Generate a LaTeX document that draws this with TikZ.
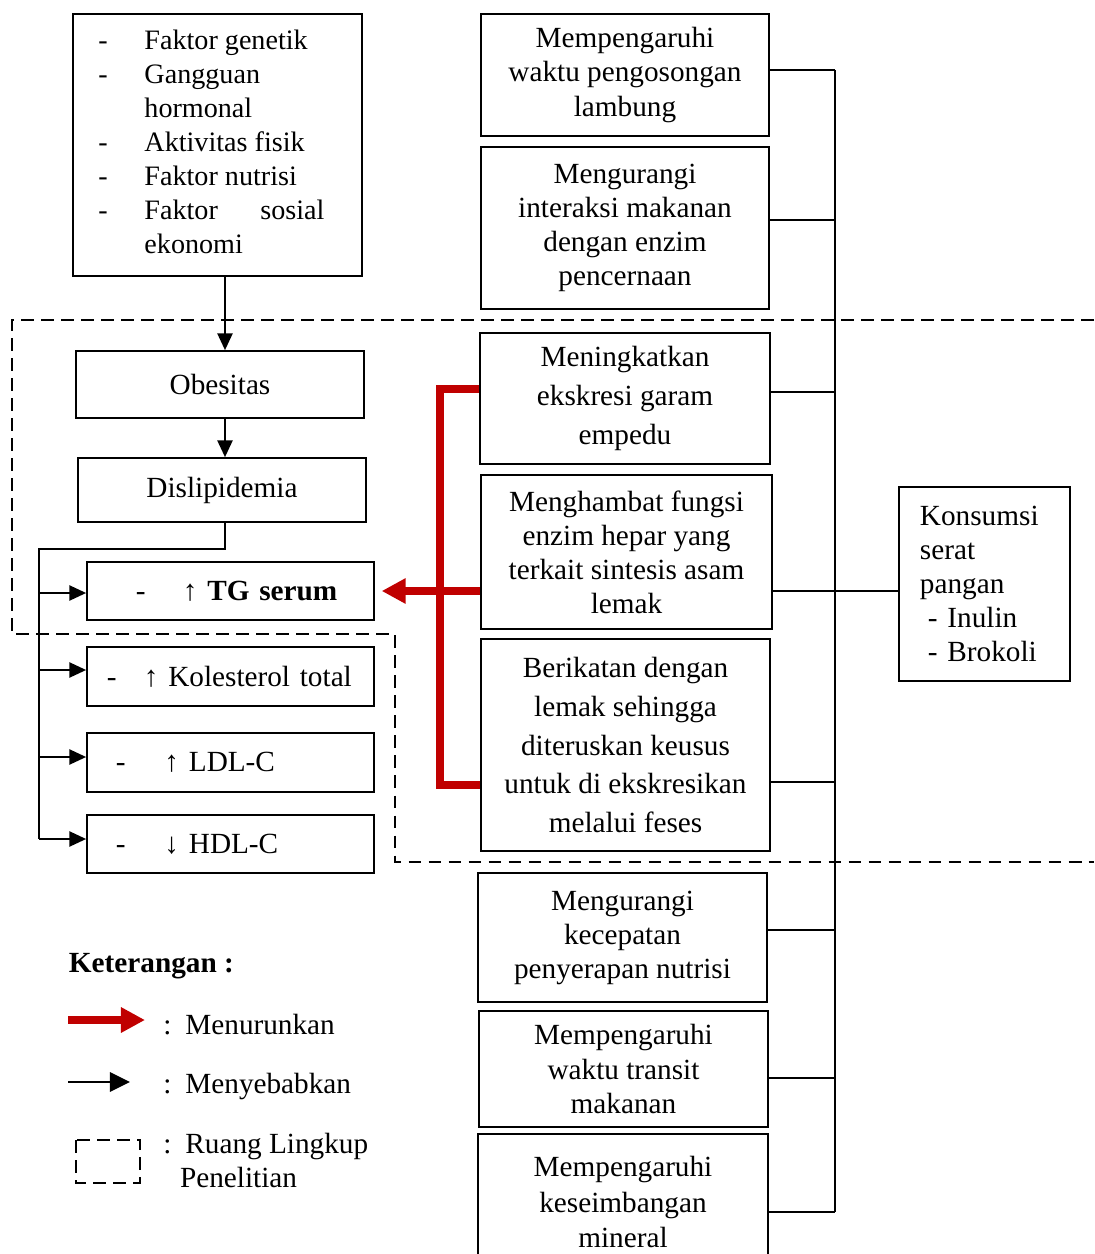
\documentclass[tikz,border=0pt]{standalone}
\usepackage{fontspec}
\setmainfont{Liberation Serif}
\usetikzlibrary{arrows.meta}
\definecolor{darkred}{RGB}{192,0,0}
\newcommand\lipid[4]{\hspace*{#1}-\hspace{#2}#3 #4}

\begin{document}
\begin{tikzpicture}[x=0.025cm, y=-0.025cm,
		box/.style={draw, line width=1.2pt, inner sep=0pt, align=center, font=\fontsize{20.8}{24.2}\selectfont},
		loose/.style={font=\fontsize{20.8}{27.6}\selectfont},
		lipidbox/.style={box, minimum width=7.175cm, text width=7.175cm, align=left},
		link/.style={line width=1.3pt},
		cause/.style={link, -{Triangle[length=0.42cm, width=0.38cm]}},
		redline/.style={line width=5pt, draw=darkred},
		scopeline/.style={line width=1.3pt, dash pattern=on 0.32cm off 0.18cm}]
		%%%%% START %%%%%
		
		\useasboundingbox (0, 0) rectangle (1094, 1254);
		
		\draw[scopeline] (1094, 320) -- (12, 320) -- (12, 634) -- (395, 634) -- (395, 862) -- (1094, 862);
		
		\node[box, minimum width=7.225cm, minimum height=6.55cm, font=\fontsize{20}{24.2}\selectfont] (risk) at (217.5, 145) {\hspace*{-0.3cm}\begin{tabular}{@{}p{1.15cm}@{}p{4.5cm}@{}}
				- & Faktor genetik\\
				- & Gangguan\\
				& hormonal\\
				- & Aktivitas fisik\\
				- & Faktor nutrisi\\
				- & Faktor\hfill sosial\\
				& ekonomi
			\end{tabular}};
		\node[box, minimum width=7.2cm, minimum height=1.675cm] (ob) at (220, 384.5) {Obesitas};
		\node[box, minimum width=7.2cm, minimum height=1.6cm] (dis) at (222, 490) {Dislipidemia};
		
		\node[lipidbox, minimum height=1.45cm] (tg) at (230.5, 591) {\lipid{1.225cm}{0.93cm}{↑}{\textbf{TG serum}}};
		\node[lipidbox, minimum height=1.475cm] (kol) at (230.5, 676.5) {\lipid{0.5cm}{0.68cm}{↑}{Kolesterol total}};
		\node[lipidbox, minimum height=1.475cm] (ldl) at (230.5, 762.5) {\lipid{0.725cm}{0.97cm}{↑}{LDL-C}};
		\node[lipidbox, minimum height=1.45cm] (hdl) at (230.5, 844) {\lipid{0.725cm}{0.97cm}{↓}{HDL-C}};
		
		\coordinate (spine) at (225, 0);
		\draw[cause] (risk.south -| spine) -- (ob.north -| spine);
		\draw[cause] (ob.south -| spine) -- (dis.north -| spine);
		
		\coordinate (feed) at (39, 549);
		\coordinate (feedend) at (39, 839);
		\draw[link] (dis.south -| spine) |- (feed) -- (feedend);
		\foreach \n/\y in {tg/593, kol/670, ldl/757, hdl/839}
			\draw[cause] (feed |- 0,\y) -- (\n.west |- 0,\y);
		
		% mekanisme serat
		\node[box, minimum width=7.2cm, minimum height=3.05cm] (m1) at (625, 75) {Mempengaruhi\\waktu pengosongan\\lambung};
		\node[box, minimum width=7.2cm, minimum height=4.05cm] (m2) at (625, 228) {Mengurangi\\interaksi makanan\\dengan enzim\\pencernaan};
		\node[box, loose, minimum width=7.25cm, minimum height=3.275cm] (m3) at (625, 398.5) {Meningkatkan\\ekskresi garam\\empedu};
		\node[box, minimum width=7.275cm, minimum height=3.85cm] (m4) at (626.5, 552) {Menghambat fungsi\\enzim hepar yang\\terkait sintesis asam\\lemak};
		\node[box, loose, minimum width=7.225cm, minimum height=5.3cm] (m5) at (625.5, 745) {Berikatan dengan\\lemak sehingga\\diteruskan keusus\\untuk di ekskresikan\\melalui feses};
		\node[box, minimum width=7.225cm, minimum height=3.225cm] (m6) at (622.5, 937.5) {Mengurangi\\kecepatan\\penyerapan nutrisi};
		\node[box, minimum width=7.225cm, minimum height=2.9cm] (m7) at (623.5, 1069) {Mempengaruhi\\waktu transit\\makanan};
		\node[box, minimum width=7.25cm, minimum height=3.4cm, font=\fontsize{20.8}{25}\selectfont] (m8) at (623, 1202) {Mempengaruhi\\keseimbangan\\mineral};
		
		\node[box, minimum width=4.275cm, minimum height=4.85cm, text width=3.225cm, align=left] (ks) at (984.5, 584) {Konsumsi\\serat\\pangan\\\hspace*{0.2cm}- Inulin\\\hspace*{0.2cm}- Brokoli};
		
		\coordinate (bustop) at (835, 70);
		\coordinate (busbot) at (835, 1212);
		\draw[link] (bustop) -- (busbot);
		\foreach \n/\y in {m1/70, m2/220, m3/392, m5/782, m6/930, m7/1078, m8/1212}
			\draw[link] (\n.east |- 0,\y) -- (bustop |- 0,\y);
		\draw[link] (m4.east |- tg.east) -- (ks.west |- tg.east);
		
		% menurunkan
		\coordinate (rtop) at (440, 389);
		\coordinate (rbot) at (440, 785);
		\draw[redline] (m3.west |- rtop) -- (rtop) -- (rbot) -- (m5.west |- rbot);
		\draw[redline, -{Triangle[length=0.6cm, width=0.6cm]}, shorten >=0.17cm] (m4.west |- tg.east) -- (tg.east);
		
		% keterangan
		\node[anchor=west, font=\bfseries\fontsize{20.8}{24.2}\selectfont] (keyhead) at (64, 966) {Keterangan :};
		
		\coordinate (ka) at (68, 1020);
		\coordinate (kb) at (145, 1020);
		\draw[redline, -{Triangle[length=0.6cm, width=0.6cm]}] (ka) -- (kb);
		\node[anchor=west, font=\fontsize{20.8}{24.2}\selectfont, inner sep=0pt] (lg1) at (163, 1025) {:\hspace{0.35cm}Menurunkan};
		
		\coordinate (kc) at (68, 1082);
		\coordinate (kd) at (130, 1082);
		\draw[link, line width=1.6pt, -{Triangle[length=0.5cm, width=0.48cm]}] (kc) -- (kd);
		\node[anchor=west, font=\fontsize{20.8}{24.2}\selectfont, inner sep=0pt] (lg2) at (163, 1086) {:\hspace{0.35cm}Menyebabkan};
		
		\draw[scopeline] (76, 1140) rectangle (140, 1183);
		\node[anchor=north west, font=\fontsize{20.8}{24.2}\selectfont, inner sep=0pt, align=left] (lg3) at (163, 1133) {:\hspace{0.35cm}Ruang Lingkup\\\hspace*{0.42cm}Penelitian};
		
		%%%%% END %%%%%
	\end{tikzpicture}
\end{document}
